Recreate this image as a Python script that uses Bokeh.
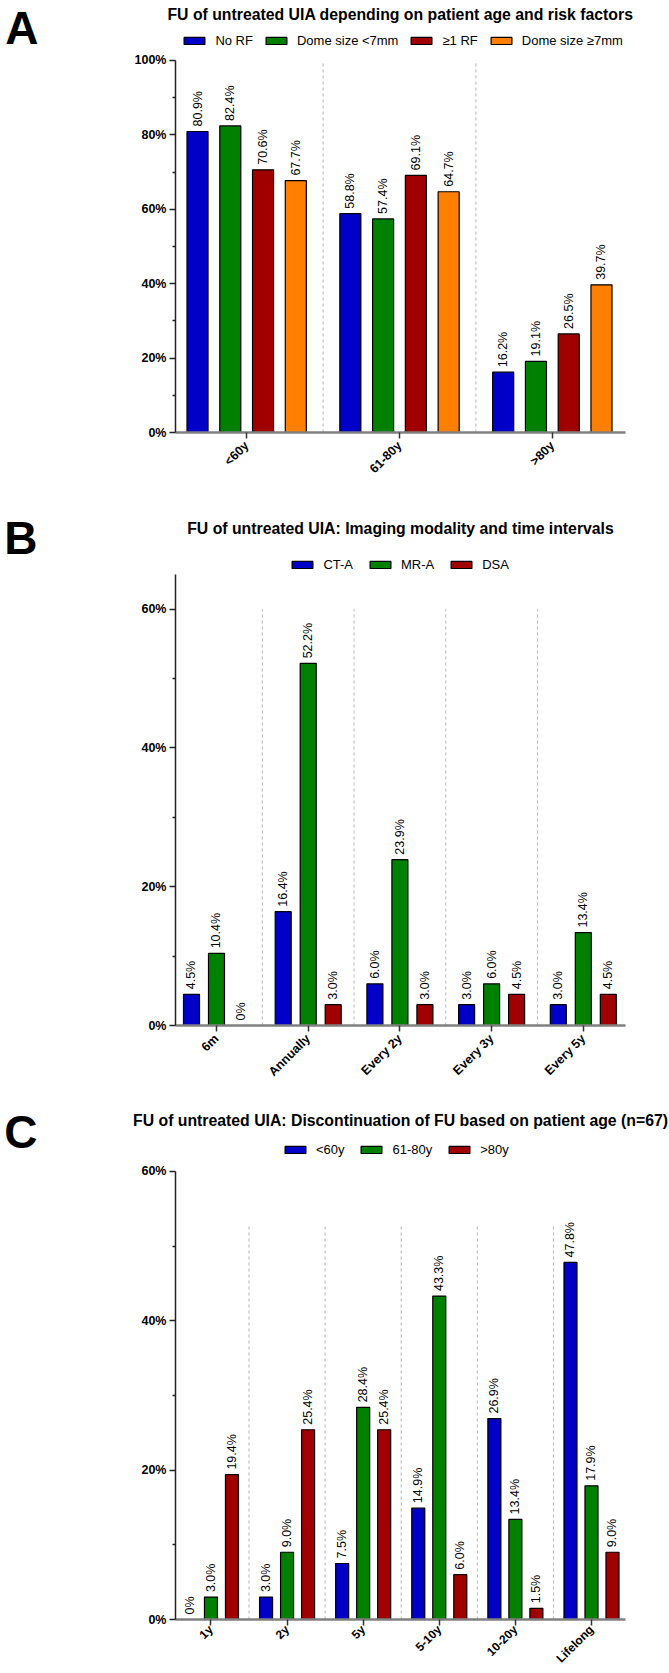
import math
from bokeh.plotting import figure
from bokeh.models import (Range1d, FixedTicker, Legend, LegendItem, LinearAxis,
                          ColumnDataSource, PrintfTickFormatter, Title)
from bokeh.layouts import column
from bokeh.transform import dodge
from bokeh.core.properties import value
from bokeh.embed import file_html
from bokeh.resources import INLINE

FONT = "Liberation Sans"

# ---------------- data ----------------
a_categories = ["<60y", "61-80y", ">80y"]
a_series = ["No RF", "Dome size <7mm", "\u22651 RF", "Dome size \u22657mm"]
a_no_rf = [80.9, 58.8, 16.2]
a_dome_small = [82.4, 57.4, 19.1]
a_one_rf = [70.6, 69.1, 26.5]
a_dome_large = [67.7, 64.7, 39.7]
a_yticks = [0, 20, 40, 60, 80, 100]
a_yminor = [10, 30, 50, 70, 90]

b_categories = ["6m", "Annually", "Every 2y", "Every 3y", "Every 5y"]
b_series = ["CT-A", "MR-A", "DSA"]
b_cta = [4.5, 16.4, 6.0, 3.0, 3.0]
b_mra = [10.4, 52.2, 23.9, 6.0, 13.4]
b_dsa = [0.0, 3.0, 3.0, 4.5, 4.5]
b_yticks = [0, 20, 40, 60]
b_yminor = [10, 30, 50]

c_categories = ["1y", "2y", "5y", "5-10y", "10-20y", "Lifelong"]
c_series = ["<60y", "61-80y", ">80y"]
c_lt60 = [0.0, 3.0, 7.5, 14.9, 26.9, 47.8]
c_61_80 = [3.0, 9.0, 28.4, 43.3, 13.4, 17.9]
c_gt80 = [19.4, 25.4, 25.4, 6.0, 1.5, 9.0]
c_yticks = [0, 20, 40, 60]
c_yminor = [10, 30, 50]

BLUE, GREEN, RED, ORANGE = "#0000C8", "#008000", "#A00000", "#FF8000"

PAGE_W = 669
FL, FR = 175, 625          # frame left / right on the page


def fmt(v):
    return "0%" if v == 0 else "%.1f%%" % v


def panel(letter, title, cats, names, series, colors, yticks, yminor, g):
    top, bottom = g["top"], g["bottom"]
    ft, fb = g["ft"], g["fb"]             # frame top / bottom (page px)
    ppu = g["ppu"]                         # pixels per percent
    y_end = (fb - ft) / ppu
    p = figure(width=PAGE_W, height=bottom - top,
               x_range=Range1d(*g["xr"]), y_range=Range1d(0, y_end),
               min_border_left=FL, min_border_right=PAGE_W - FR,
               min_border_top=ft - top, min_border_bottom=bottom - fb,
               output_backend="svg", toolbar_location=None, tools="")
    p.title = Title(text=title, align="center", text_font=FONT,
                    text_font_style="bold", text_font_size="15.8px",
                    text_color="black", standoff=g.get("tstandoff", 0),
                    vertical_align="bottom")
    p.outline_line_color = None
    p.xgrid.visible = False
    p.ygrid.visible = False

    # main y axis
    ya = p.yaxis[0]
    ya.bounds = (0, g["ymax"])
    ya.ticker = FixedTicker(ticks=yticks, minor_ticks=yminor)
    ya.formatter = PrintfTickFormatter(format="%d%%")
    ya.major_label_text_font = FONT
    ya.major_label_text_font_style = "bold"
    ya.major_label_text_font_size = "12.5px"
    ya.major_label_text_color = "black"
    ya.axis_line_color = "#222222"
    ya.axis_line_width = 1.5
    ya.major_tick_line_color = "#222222"
    ya.major_tick_line_width = 1.5
    ya.minor_tick_line_color = "#222222"
    ya.minor_tick_line_width = 1.5
    ya.major_tick_out = 6
    ya.major_tick_in = 0
    ya.minor_tick_out = 3
    ya.minor_tick_in = 0
    ya.major_label_standoff = 3

    # panel letter, shown as the single label of an outer left axis
    ly = round((fb - g["letter_mid"]) / ppu, 2)
    la = LinearAxis(ticker=FixedTicker(ticks=[ly], minor_ticks=[]),
                    major_label_overrides={ly: letter},
                    axis_line_color=None, major_tick_line_color=None,
                    minor_tick_line_color=None, major_tick_out=0, major_tick_in=0,
                    minor_tick_out=0, minor_tick_in=0,
                    major_label_standoff=g["lstand"],
                    major_label_text_font=FONT, major_label_text_font_style="bold",
                    major_label_text_font_size="46px", major_label_text_color="black")
    p.add_layout(la, "left")

    # x axis
    xa = p.xaxis[0]
    n = len(cats)
    xa.ticker = FixedTicker(ticks=list(range(n)), minor_ticks=[])
    xa.major_label_overrides = {i: c for i, c in enumerate(cats)}
    xa.major_label_orientation = math.pi / 4
    xa.major_label_text_font = FONT
    xa.major_label_text_font_style = "bold"
    xa.major_label_text_font_size = g.get("xfont", "12.5px")
    xa.major_label_text_color = "black"
    xa.axis_line_color = "#808080"
    xa.axis_line_width = 2.5
    xa.major_tick_line_color = "#333333"
    xa.major_tick_line_width = 1.5
    xa.major_tick_out = 6
    xa.major_tick_in = 0
    xa.minor_tick_out = 0
    xa.major_label_standoff = g.get("xstandoff", 5)

    # dashed separators between categories
    seps = ColumnDataSource(dict(xs=[i + 0.5 for i in range(n - 1)],
                                 y0=[0] * (n - 1), y1=[g["septop"]] * (n - 1)))
    p.segment(x0="xs", y0="y0", x1="xs", y1="y1", source=seps,
              line_color="#b4b4b4", line_width=1, line_dash="3 3")

    data = {"xi": list(range(n))}
    for j, vals in enumerate(series):
        data["s%d" % j] = vals
        data["t%d" % j] = [fmt(v) for v in vals]
    src = ColumnDataSource(data)

    items = []
    for j, (name, col) in enumerate(zip(names, colors)):
        off = g["offs"][j]
        r = p.vbar(x=dodge("xi", off), top="s%d" % j, bottom=0, width=g["bw"],
                   source=src, fill_color=col, line_color="black", line_width=1.2)
        p.text(x=dodge("xi", off), y="s%d" % j, text="t%d" % j, source=src,
               angle=math.pi / 2, text_align="left", text_baseline="middle",
               y_offset=-5, text_font=value(FONT), text_font_size="12.5px",
               text_color="black")
        items.append(LegendItem(label=name, renderers=[r]))

    leg = Legend(items=items,
                 location=(g["leg_left"] - 2.6 - FL, fb - (g["leg_mid"] + 6)),
                 orientation="horizontal",
                 glyph_width=26, glyph_height=9, label_standoff=8,
                 spacing=g["leg_space"],
                 padding=0, margin=0, border_line_color=None,
                 background_fill_alpha=0, label_height=12,
                 label_text_font=FONT, label_text_font_size="13px",
                 label_text_color="black")
    p.add_layout(leg)
    return p


ga = dict(top=0, bottom=490, ft=24, fb=432, ppu=3.73, ymax=100, tstandoff=6,
          xr=(-0.4656, 2.4787), bw=0.1377,
          offs=[-0.3216, -0.1072, 0.1072, 0.3216], septop=100,
          letter_mid=26.5, lstand=93, leg_left=184, leg_mid=42, leg_space=10)
gb = dict(top=490, bottom=1090, ft=536, fb=1025, ppu=6.938, ymax=65,
          xr=(-0.447, 4.46), bw=0.1745,
          offs=[-0.2726, 0.0, 0.2726], septop=60,
          letter_mid=537.5, lstand=101, leg_left=292, leg_mid=566, leg_space=14)
gc = dict(top=1090, bottom=1673, ft=1128, fb=1621, ppu=7.5, ymax=60,
          xr=(-0.466, 5.447), bw=0.171, xstandoff=2, xfont="12px",
          offs=[-0.276, 0.0, 0.276], septop=53,
          letter_mid=1131.5, lstand=101, leg_left=284.5, leg_mid=1153, leg_space=14)

pa = panel("A", "FU of untreated UIA depending on patient age and risk factors",
           a_categories, a_series, [a_no_rf, a_dome_small, a_one_rf, a_dome_large],
           [BLUE, GREEN, RED, ORANGE], a_yticks, a_yminor, ga)
pb = panel("B", "FU of untreated UIA: Imaging modality and time intervals",
           b_categories, b_series, [b_cta, b_mra, b_dsa],
           [BLUE, GREEN, RED], b_yticks, b_yminor, gb)
pc = panel("C", "FU of untreated UIA: Discontinuation of FU based on patient age (n=67)",
           c_categories, c_series, [c_lt60, c_61_80, c_gt80],
           [BLUE, GREEN, RED], c_yticks, c_yminor, gc)

p = column(pa, pb, pc, spacing=0)
open("out.html", "w").write(file_html(p, INLINE))
